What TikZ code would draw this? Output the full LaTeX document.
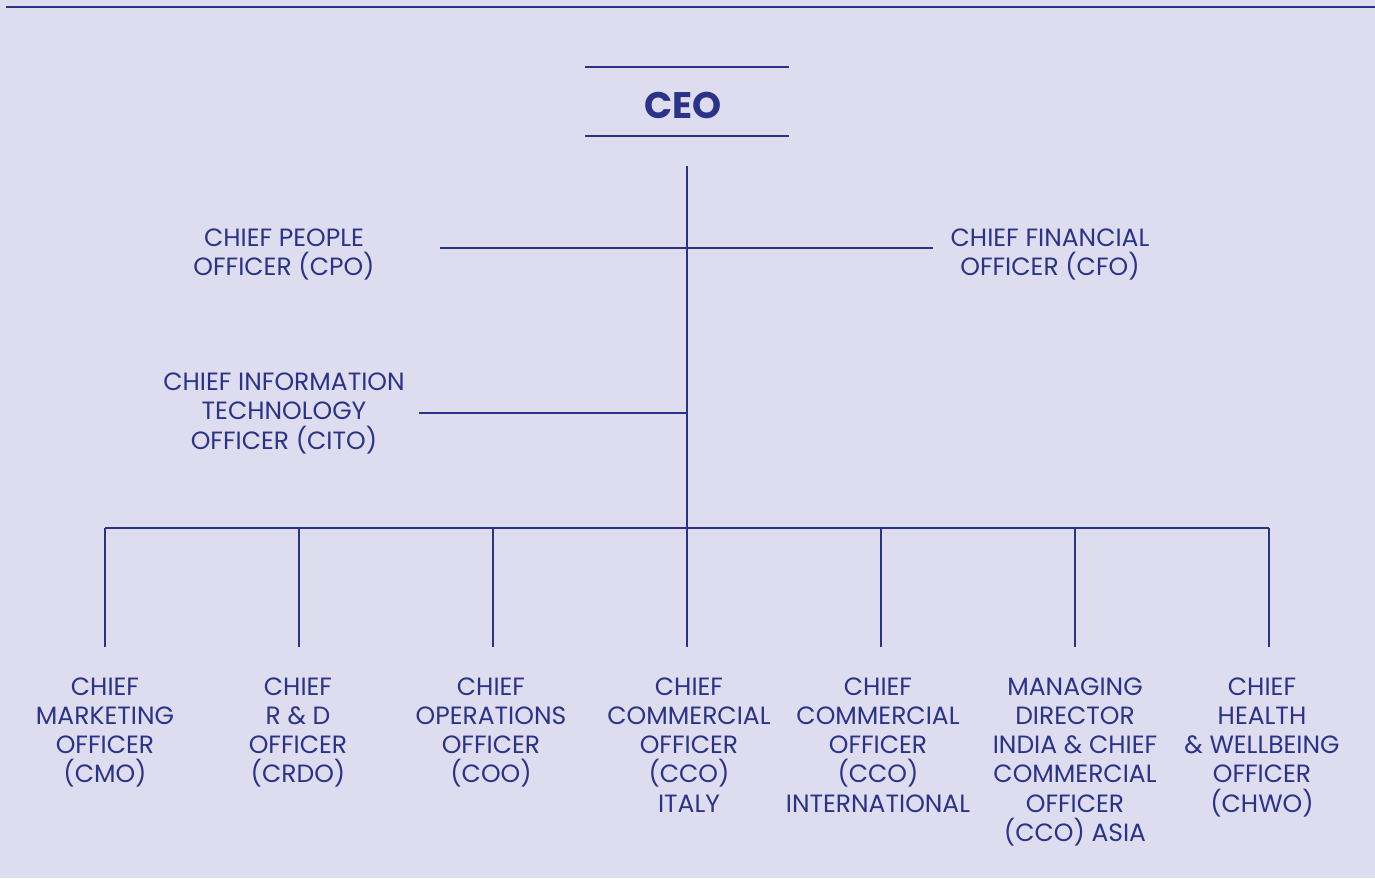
\documentclass[tikz,border=0pt]{standalone}
\usepackage{fontspec}
\setmainfont{Poppins}
\usetikzlibrary{positioning}
\definecolor{navy}{RGB}{43,51,137}
\definecolor{lilac}{RGB}{222,221,239}
\tikzset{role/.style = {text=navy, align=center, inner sep=0, anchor=north, font=\fontsize{12.5}{14.65}\selectfont}}
\tikzset{wire/.style = {draw=navy, line width=1pt}}

\begin{document}
\begin{tikzpicture}[x=0.5pt, y=-0.5pt]
    \fill [lilac] (0, 0) rectangle (1375, 878);
    \useasboundingbox (0, 0) rectangle (1375, 878);
    % rule along the top
    \coordinate (topl) at (6, 7);
    \coordinate (topr) at (1375, 7);
    \draw [wire] (topl) -- (topr);
    % CEO between two rules
    \node [role, font=\bfseries\fontsize{18.5}{20}\selectfont] (ceo) at (683, 92) {CEO};
    \coordinate (ceoal) at (585, 67);
    \coordinate (ceoar) at (789, 67);
    \coordinate (ceobl) at (585, 136);
    \coordinate (ceobr) at (789, 136);
    \draw [wire] (ceoal) -- (ceoar);
    \draw [wire] (ceobl) -- (ceobr);
    % side officers
    \node [role] (cpo) at (284, 228.5) {CHIEF PEOPLE\\OFFICER (CPO)};
    \node [role] (cfo) at (1050, 228.5) {CHIEF FINANCIAL\\OFFICER (CFO)};
    \node [role] (cito) at (284, 372.5) {CHIEF INFORMATION\\TECHNOLOGY\\OFFICER (CITO)};
    \coordinate (trunk) at (687, 166);
    \coordinate (cpoend) at (440, 248);
    \coordinate (cfoend) at (933, 248);
    \coordinate (citoend) at (419, 413);
    \coordinate (citojoin) at (687, 413);
    % bottom row
    \foreach \i/\x/\lx/\txt in {
        1/105/105/{CHIEF\\MARKETING\\OFFICER\\(CMO)},
        2/299/298/{CHIEF\\R \& D\\OFFICER\\(CRDO)},
        3/493/491/{CHIEF\\OPERATIONS\\OFFICER\\(COO)},
        4/687/689/{CHIEF\\COMMERCIAL\\OFFICER\\(CCO)\\ITALY},
        5/881/878/{CHIEF\\COMMERCIAL\\OFFICER\\(CCO)\\INTERNATIONAL},
        6/1075/1075/{MANAGING\\DIRECTOR\\INDIA \& CHIEF\\COMMERCIAL\\OFFICER\\(CCO) ASIA},
        7/1269/1262/{CHIEF\\HEALTH\\\& WELLBEING\\OFFICER\\(CHWO)}}{
      \node [role] (off\i) at (\lx, 677) {\txt};
      \coordinate (bus\i) at (\x, 528);
      \coordinate (drop\i) at (\x, 647);
      \draw [wire] (bus\i) -- (drop\i);
    }
    \draw [wire] (bus1) -- (bus7);
    \draw [wire] (trunk) -- (bus4);
    \draw [wire] (cpoend) -- (cfoend);
    \draw [wire] (citoend) -- (citojoin);
  \end{tikzpicture}
\end{document}
